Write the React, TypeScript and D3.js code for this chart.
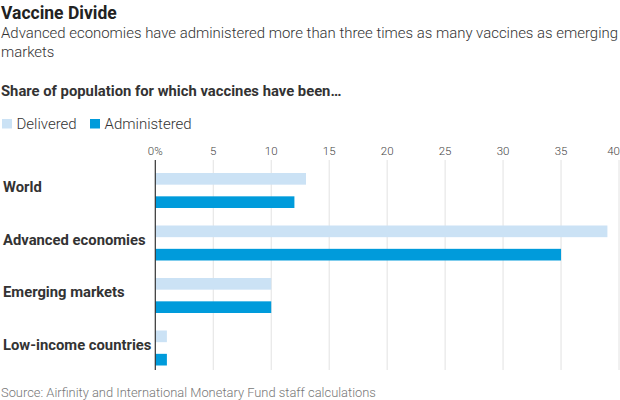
import React from "react";
import * as d3 from "d3";

const categories = ["World", "Advanced economies", "Emerging markets", "Low-income countries"];
const delivered = [13, 39, 10, 1];
const administered = [12, 35, 10, 1];
const ticks = [0, 5, 10, 15, 20, 25, 30, 35, 40];
const seriesNames = ["Delivered", "Administered"];
const colors = ["#cbe2f5", "#009bdb"];

const W = 620;
const H = 400;
const FONT = "Roboto, 'Noto Sans', sans-serif";

export default function App() {
  const x = d3.scaleLinear().domain([0, 40]).range([155.3, 619]);
  const y0 = d3.scaleBand<string>().domain(categories).range([160, 370]).paddingInner(0).paddingOuter(0);
  const y1 = d3.scaleBand<string>().domain(seriesNames).range([0, 35]).paddingInner(0.5);
  const bandTop = (c: string) => (y0(c) as number) + 13;
  const series = [delivered, administered];

  return (
    <svg width={W} height={H} style={{ position: "absolute", left: 0, top: 0, fontFamily: FONT }}>
      <rect width={W} height={H} fill="#fff" />
      <text x={1} y={19} fontSize={17.5} fontWeight={700} fill="#222">Vaccine Divide</text>
      <text x={1} y={38} fontSize={14.9} fontWeight={300} fill="#333" textLength={617} lengthAdjust="spacingAndGlyphs">
        Advanced economies have administered more than three times as many vaccines as emerging
      </text>
      <text x={1} y={57} fontSize={14.9} fontWeight={300} fill="#333">markets</text>
      <text x={1} y={96} fontSize={14.8} fontWeight={700} fill="#333">Share of population for which vaccines have been…</text>

      {seriesNames.map((s, i) => {
        const lx = i === 0 ? 2 : 90;
        return (
          <g key={s}>
            <rect x={lx} y={119} width={10} height={9.5} fill={colors[i]} />
            <text x={lx + 14.5} y={128.5} fontSize={15} fontWeight={300} fill="#333">{s}</text>
          </g>
        );
      })}

      {ticks.map((t, i) => (
        <g key={t}>
          {t > 0 && <line x1={x(t)} x2={x(t)} y1={160} y2={370} stroke="#e2e2e2" strokeWidth={1} />}
          <text
            x={i === ticks.length - 1 ? 620 : x(t)}
            y={155}
            fontSize={11.5}
            fontWeight={300}
            fill="#444"
            textAnchor={i === ticks.length - 1 ? "end" : "middle"}
          >
            {t === 0 ? "0%" : t}
          </text>
        </g>
      ))}

      {categories.map((c, ci) => (
        <g key={c}>
          <text x={3} y={(y0(c) as number) + y0.bandwidth() / 2 + 6} fontSize={14.8} fontWeight={700} fill="#333">
            {c}
          </text>
          {series.map((vals, si) => (
            <rect
              key={si}
              x={x(0)}
              y={bandTop(c) + (y1(seriesNames[si]) as number)}
              width={x(vals[ci]) - x(0)}
              height={y1.bandwidth()}
              fill={colors[si]}
            />
          ))}
        </g>
      ))}

      <line x1={x(0)} x2={x(0)} y1={160} y2={370} stroke="#333" strokeWidth={1.2} />

      <text x={1} y={397} fontSize={12.9} fontWeight={300} fill="#777">
        Source: Airfinity and International Monetary Fund staff calculations
      </text>
    </svg>
  );
}
